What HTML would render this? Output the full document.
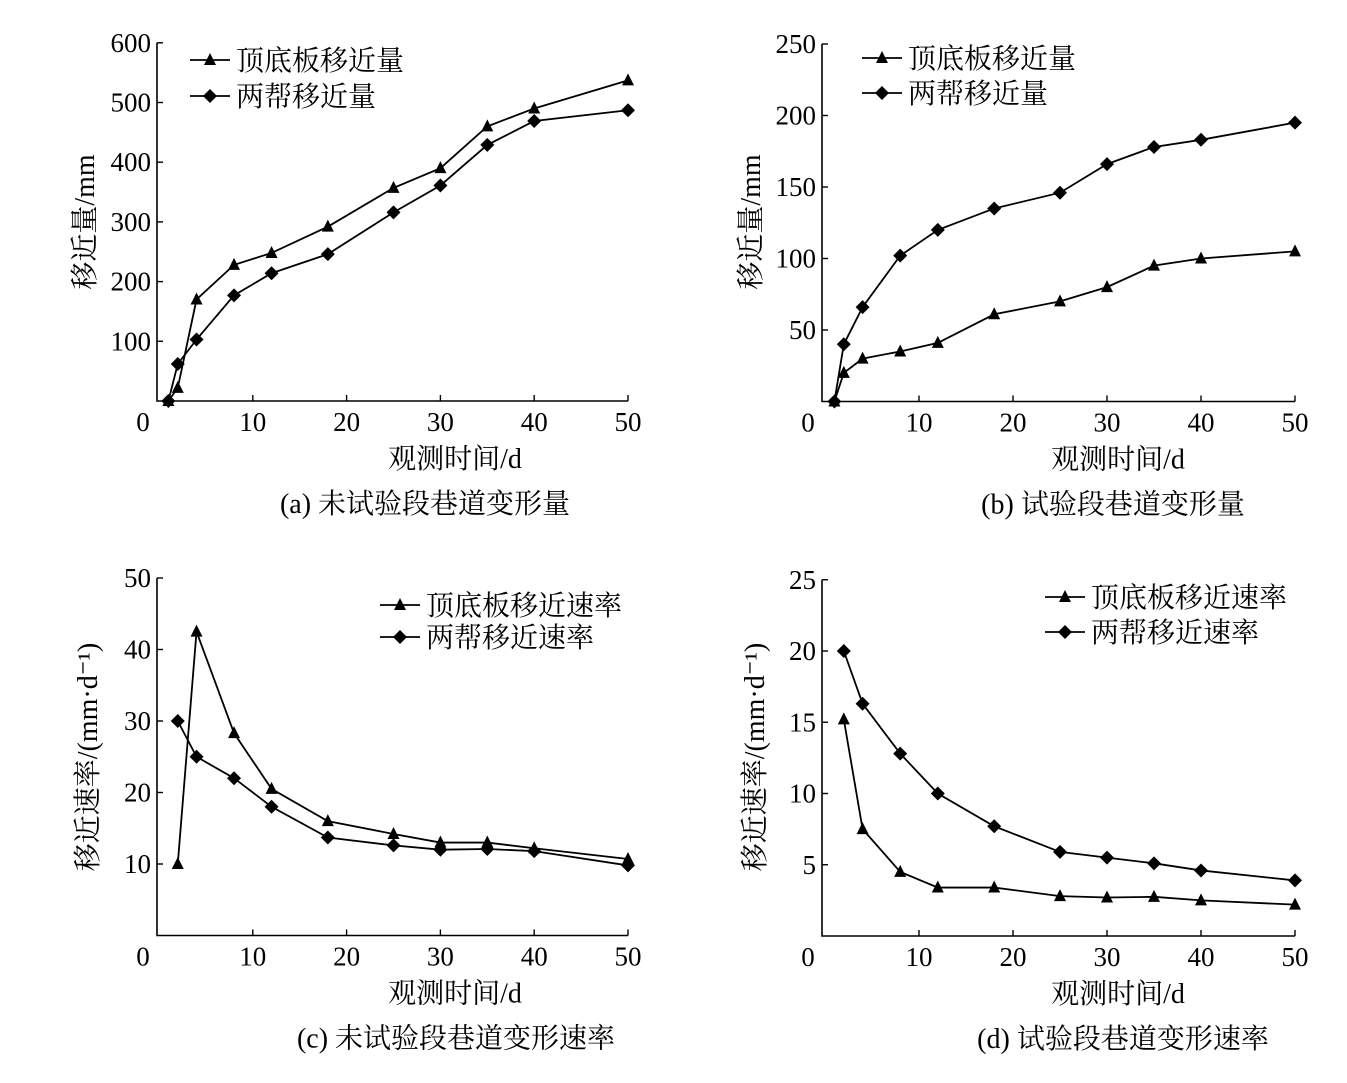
<!DOCTYPE html>
<html><head><meta charset="utf-8"><style>
body{margin:0;background:#fff}
svg{display:block;font-family:"Liberation Serif","Noto Serif CJK SC",serif}
</style></head><body>
<svg id="c" width="1347" height="1083" viewBox="0 0 1347 1083"></svg>
<script>
const daysA=[1,2,4,8,12,18,25,30,35,40,50];
const roofA=[0,22,170,228,248,292,357,390,460,490,537];
const sideA=[0,62,103,177,214,246,316,361,429,469,487];
const roofB=[0,20,30,35,41,61,70,80,95,100,105];
const sideB=[0,40,66,102,120,135,146,166,178,183,195];
const daysC=[2,4,8,12,18,25,30,35,40,50];
const roofC=[10,42.5,28.3,20.5,16,14.2,13,13,12.2,10.7];
const sideC=[30,25,22,18,13.7,12.6,12,12.1,11.8,9.8];
const roofD=[15.2,7.5,4.5,3.4,3.4,2.8,2.7,2.75,2.5,2.2];
const sideD=[20,16.3,12.8,10,7.7,5.9,5.5,5.1,4.6,3.9];
const xTicks=[10,20,30,40,50];
const yTicksA=[100,200,300,400,500,600];
const yTicksB=[50,100,150,200,250];
const yTicksC=[10,20,30,40,50];
const yTicksD=[5,10,15,20,25];

const svg=document.getElementById('c');
const NS='http://www.w3.org/2000/svg';
function mk(tag,attrs,parent){const e=document.createElementNS(NS,tag);for(const k in attrs)e.setAttribute(k,attrs[k]);(parent||svg).appendChild(e);return e;}
function txt(s,x,y,size,anchor,parent,rot){const e=mk('text',{x:x,y:y,'font-size':size,'text-anchor':anchor||'start',fill:'#000'},parent);if(rot)e.setAttribute('transform',`rotate(-90 ${x} ${y})`);e.textContent=s;return e;}
function marker(type,x,y,g){
  if(type==='tri'){const m=mk('polygon',{points:`${x},${y-7} ${x-6},${y+5} ${x+6},${y+5}`,fill:'#000'},g);}
  else{const m=mk('polygon',{points:`${x},${y-7} ${x+7},${y} ${x},${y+7} ${x-7},${y}`,fill:'#000'},g);}
}
function panel(o){
  const g=mk('g',{});
  
  
  const X=v=>o.x0+v*o.xs, Y=v=>o.y0-v*o.ys;
  const ax=mk('path',{d:`M${o.ax},${Y(o.ymax)} L${o.ax},${o.y0} L${X(50)},${o.y0}`,stroke:'#000','stroke-width':1.6,fill:'none'},g);
  
  xTicks.forEach(t=>{mk('line',{x1:X(t),x2:X(t),y1:o.y0,y2:o.y0-6,stroke:'#000','stroke-width':1.4},g);
    const l=txt(String(t),X(t),o.y0+30,27,'middle',g);});
  const z=txt('0',o.ax-14,o.y0+30,27,'middle',g);
  o.yt.forEach(t=>{mk('line',{x1:o.ax,x2:o.ax+6,y1:Y(t),y2:Y(t),stroke:'#000','stroke-width':1.4},g);
    const l=txt(String(t),o.ax-6,Y(t)+9,27,'end',g);});
  [[o.r,'tri'],[o.s,'dia']].forEach(([vals,t],si)=>{
    const d=vals.map((v,i)=>(i?'L':'M')+X(o.days[i])+','+Y(v)).join(' ');
    const p=mk('path',{d:d,stroke:'#000','stroke-width':1.8,fill:'none'},g);
    
    vals.forEach((v,i)=>marker(t,X(o.days[i]),Y(v),g));
  });
  o.leg.forEach((s,i)=>{const y=o.ly+i*o.lgap;
    mk('line',{x1:o.lx,x2:o.lx+40,y1:y,y2:y,stroke:'#000','stroke-width':1.8},g);
    marker(i?'dia':'tri',o.lx+20,y,g);
    const l=txt(s,o.lx+46,y+10,28,'start',g);});
  const yt=txt(o.ytitle,o.ytx,o.yty,28,'middle',g,true);
  const xt=txt('观测时间/d',o.xtx,o.y0+67,28,'middle',g);
  const cp=txt(o.cap,o.capx,o.y0+112,28,'middle',g);
  cp.setAttribute('xml:space','preserve');
}
panel({name:'panel-a',x0:159,xs:9.38,ax:157,y0:401,ys:0.597,ymax:600,yt:yTicksA,days:daysA,r:roofA,s:sideA,
 leg:['顶底板移近量','两帮移近量'],lx:190,ly:60,lgap:36,ytitle:'移近量/mm',ytx:94,yty:222,xtx:455,capx:425,cap:'(a)  未试验段巷道变形量'});
panel({name:'panel-b',x0:825,xs:9.4,ax:822,y0:401.5,ys:1.43,ymax:250,yt:yTicksB,days:daysA,r:roofB,s:sideB,
 leg:['顶底板移近量','两帮移近量'],lx:862,ly:58,lgap:35,ytitle:'移近量/mm',ytx:760,yty:222,xtx:1118,capx:1113,cap:'(b)  试验段巷道变形量'});
panel({name:'panel-c',x0:159,xs:9.38,ax:157,y0:935.5,ys:7.15,ymax:50,yt:yTicksC,days:daysC,r:roofC,s:sideC,
 leg:['顶底板移近速率','两帮移近速率'],lx:380,ly:605,lgap:32,ytitle:'移近速率/(mm·d⁻¹)',ytx:97,yty:757,xtx:455,capx:456,cap:'(c)  未试验段巷道变形速率'});
panel({name:'panel-d',x0:825,xs:9.4,ax:822,y0:936,ys:14.25,ymax:25,yt:yTicksD,days:daysC,r:roofD,s:sideD,
 leg:['顶底板移近速率','两帮移近速率'],lx:1045,ly:597,lgap:35,ytitle:'移近速率/(mm·d⁻¹)',ytx:764,yty:757,xtx:1118,capx:1123,cap:'(d)  试验段巷道变形速率'});
</script>
</body></html>
